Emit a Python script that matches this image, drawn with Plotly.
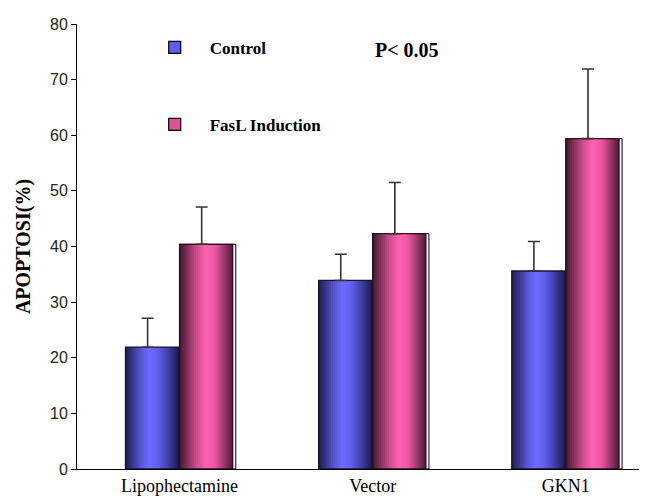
import numpy as np
import plotly.graph_objects as go

# ---- data ----
categories = ["Lipophectamine", "Vector", "GKN1"]
control = [21.9, 33.9, 35.6]
control_err = [5.2, 4.7, 5.3]
fasl = [40.4, 42.3, 59.4]
fasl_err = [6.7, 9.2, 12.5]
y_ticks = [0, 10, 20, 30, 40, 50, 60, 70, 80]

# ---- style ----
x = np.arange(len(categories))
BW = 0.275
OFF_C = -0.28
OFF_F = 0.0
ERR_SHIFT = -0.023
N_STRIPS = 26

blue_stops = [(0.0, (30, 30, 78)), (0.12, (52, 52, 138)), (0.3, (90, 88, 215)),
              (0.45, (110, 106, 255)), (0.62, (98, 94, 236)), (0.82, (62, 60, 160)),
              (1.0, (28, 28, 74))]
pink_stops = [(0.0, (66, 24, 46)), (0.12, (120, 44, 84)), (0.32, (206, 78, 140)),
              (0.5, (255, 98, 176)), (0.66, (238, 88, 164)), (0.85, (150, 56, 104)),
              (1.0, (76, 28, 54))]


def color_at(stops, t):
    for (t0, c0), (t1, c1) in zip(stops[:-1], stops[1:]):
        if t <= t1:
            f = (t - t0) / (t1 - t0) if t1 > t0 else 0
            c = [round(a + (b - a) * f) for a, b in zip(c0, c1)]
            return "rgb(%d,%d,%d)" % tuple(c)
    return "rgb(%d,%d,%d)" % stops[-1][1]


fig = go.Figure()


def add_series(values, errs, off, stops, outline, frame, legend_color, name):
    if frame:
        fig.add_trace(go.Bar(x=x, y=values, width=BW + 0.016, offset=off,
                             marker=dict(color="white", line=dict(color="black", width=1)),
                             showlegend=False, hoverinfo="skip"))
    for i in range(N_STRIPS):
        start = BW * i / N_STRIPS
        t = (i + 0.5) / N_STRIPS
        fig.add_trace(go.Bar(x=x, y=values, width=BW - start, offset=off + start,
                             marker=dict(color=color_at(stops, t), line=dict(width=0)),
                             showlegend=False, hoverinfo="skip"))
    fig.add_trace(go.Bar(x=x, y=values, width=BW, offset=off,
                         marker=dict(color="rgba(0,0,0,0)", line=dict(color=outline, width=1.3)),
                         showlegend=False, hoverinfo="skip"))
    fig.add_trace(go.Bar(x=x, y=values, width=BW, offset=off + ERR_SHIFT,
                         marker=dict(color="rgba(0,0,0,0)", line=dict(width=0)),
                         error_y=dict(type="data", array=errs, arrayminus=[0] * len(errs),
                                      symmetric=False, color="#333333", thickness=1.6, width=6),
                         showlegend=False, hoverinfo="skip"))
    fig.add_trace(go.Bar(x=[None], y=[None], name=name, legendgroup=name,
                         marker=dict(color=legend_color, line=dict(color="black", width=1.2))))


add_series(control, control_err, OFF_C, blue_stops, "#14143c", False, "rgb(96,92,240)", "Control")
add_series(fasl, fasl_err, OFF_F, pink_stops, "#2a0e1c", True, "rgb(225,80,150)", "FasL Induction")

fig.add_annotation(x=1.18, y=75.3, xref="x", yref="y", text="P< 0.05", showarrow=False,
                   font=dict(family="Liberation Serif", size=20, color="black", weight="bold"))

fig.update_layout(
    width=647, height=503,
    margin=dict(l=69, r=8, t=9, b=42),
    paper_bgcolor="white", plot_bgcolor="white",
    barmode="overlay",
    showlegend=True,
    legend=dict(x=0.11, y=0.987, xanchor="left", yanchor="top", bgcolor="rgba(0,0,0,0)",
                font=dict(family="Liberation Serif", size=17, color="black", weight="bold"),
                tracegroupgap=52, itemwidth=60, traceorder="grouped"),
    xaxis=dict(tickmode="array", tickvals=x, ticktext=categories, range=[-0.531, 2.42],
               showline=True, linecolor="black", linewidth=1, ticks="", showgrid=False,
               zeroline=False, tickfont=dict(family="Liberation Serif", size=18, color="black")),
    yaxis=dict(range=[0, 80], tickmode="array", tickvals=y_ticks, showline=True,
               linecolor="black", linewidth=1, ticks="outside", ticklen=5, tickcolor="black",
               showgrid=False, zeroline=False,
               tickfont=dict(family="Liberation Sans", size=16, color="#222222"),
               title=dict(text="APOPTOSI(%)", standoff=14,
                          font=dict(family="Liberation Serif", size=20, color="black",
                                    weight="bold"))),
)

fig.write_html("out.html")
